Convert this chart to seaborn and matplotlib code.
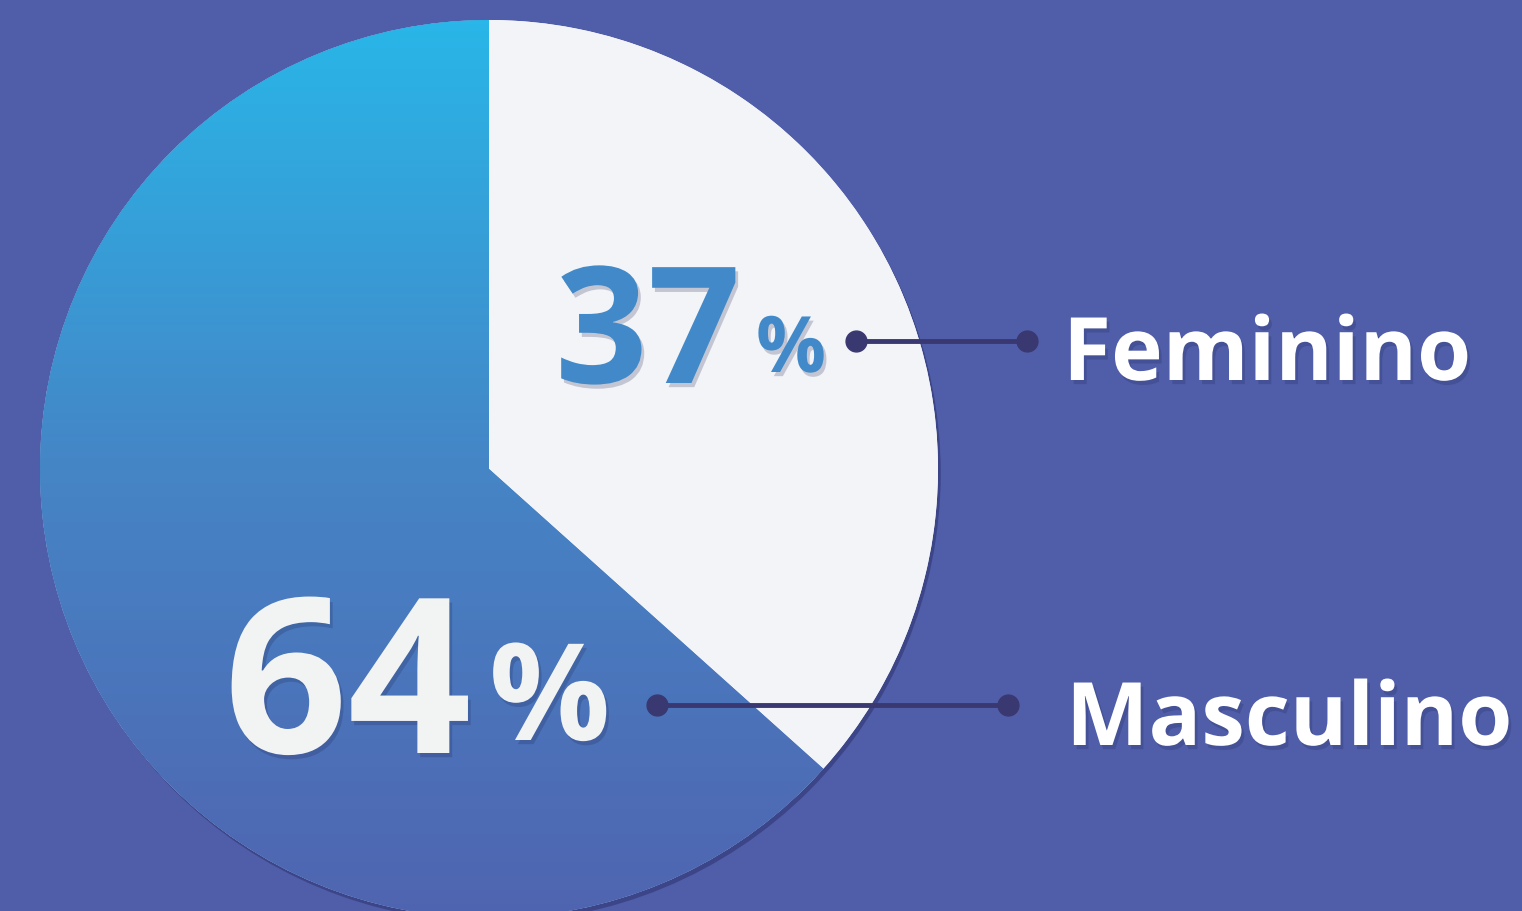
import numpy as np
import matplotlib
matplotlib.use("Agg")
import matplotlib.pyplot as plt
import matplotlib.patheffects as pe
from matplotlib.colors import LinearSegmentedColormap
from matplotlib.patches import Circle
import seaborn as sns

# dados
categorias = ['Feminino', 'Masculino']
valores = [37, 64]
rotulos = ['37', '64']
cores = ['#F2F4F8', '#4A7CC0']

sns.set_theme(style='white')
plt.rcParams['font.family'] = ['Open Sans', 'DejaVu Sans']

fundo = '#505EAA'
W, H = 1522, 911
fig = plt.figure(figsize=(W / 100, H / 100), dpi=100)
fig.patch.set_facecolor(fundo)
ax = fig.add_axes([0, 0, 1, 1])
ax.set_facecolor(fundo)

cx, cy, r = 489, H - 469, 449

# sombra do círculo
sombra = Circle((cx, cy), r, facecolor='#F2F4F8', edgecolor='none', zorder=1,
                path_effects=[pe.SimplePatchShadow(offset=(2, -3), shadow_rgbFace='#2a2e66', alpha=0.5), pe.Normal()])
ax.add_patch(sombra)

wedges, _ = ax.pie(valores, colors=cores, startangle=90, counterclock=False,
                   center=(cx, cy), radius=r, frame=True,
                   wedgeprops=dict(edgecolor='none', linewidth=0, zorder=2))
ax.set_xlim(0, W)
ax.set_ylim(0, H)
ax.set_aspect('equal')
ax.axis('off')

# gradiente na fatia azul
grad = LinearSegmentedColormap.from_list('g', ['#5064B0', '#4585C6', '#29B6E8'])
img = np.linspace(0, 1, 256).reshape(-1, 1)
im = ax.imshow(img, cmap=grad, origin='lower', aspect='auto',
               extent=(cx - r, cx + r, cy - r, cy + r), zorder=3)
im.set_clip_path(wedges[1])

sh = [pe.SimplePatchShadow(offset=(2, -3), shadow_rgbFace='#20244f', alpha=0.22), pe.Normal()]

# rótulos de percentagem
ax.text(555, H - 383, rotulos[0], fontsize=117, fontweight='bold', color='#4189C8',
        ha='left', va='baseline', zorder=5, path_effects=sh)
ax.text(756, H - 372, '%', fontsize=56, fontweight='bold', color='#4189C8',
        ha='left', va='baseline', zorder=5, path_effects=sh)
ax.text(224, H - 753, rotulos[1], fontsize=156, fontweight='bold', color='#F2F4F4',
        ha='left', va='baseline', zorder=5, path_effects=sh)
ax.text(489, H - 740, '%', fontsize=97, fontweight='bold', color='#F2F4F4',
        ha='left', va='baseline', zorder=5, path_effects=sh)

# conectores
linha = '#3A3870'
conectores = [(856, 1027, 341), (657, 1008, 705)]
for x0, x1, py in conectores:
    ax.plot([x0, x1], [H - py, H - py], color=linha, lw=3.5, zorder=6,
            marker='o', markersize=15, solid_capstyle='round')

# categorias
ax.text(1063, H - 380, categorias[0], fontsize=63, fontweight='bold', color='white',
        ha='left', va='baseline', zorder=5, path_effects=sh)
ax.text(1066, H - 745, categorias[1], fontsize=63, fontweight='bold', color='white',
        ha='left', va='baseline', zorder=5, path_effects=sh)

fig.savefig('out.png', dpi=100, facecolor=fundo)
